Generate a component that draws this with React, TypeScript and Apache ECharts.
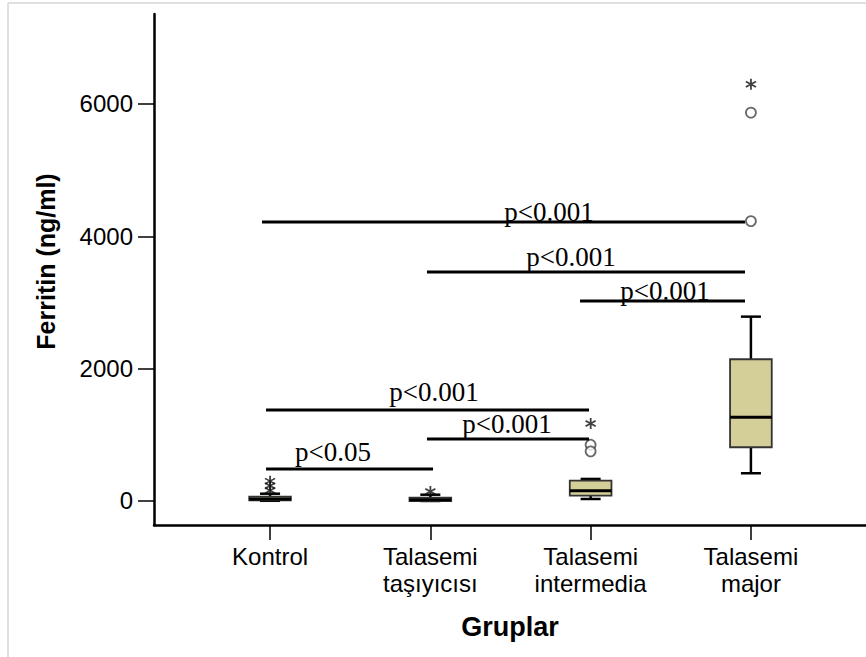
import React, { useEffect, useRef } from "react";
import * as echarts from "echarts";

// Categories (x positions 1..4)
const groups = ["Kontrol", "Talasemi\ntaşıyıcısı", "Talasemi\nintermedia", "Talasemi\nmajor"];
const groupPos = [1, 2, 3, 4];

// Box plot statistics (ng/ml)
const boxMin = [3, 0, 30, 419];
const boxQ1 = [8, 0, 80, 812];
const boxMedian = [30, 20, 156, 1265];
const boxQ3 = [65, 50, 307, 2142];
const boxMax = [110, 95, 333, 2786];

// Outliers: extreme (*) and mild (o) as [group position, value]
const extremeOutliers = [
  [1, 300], [1, 230], [1, 160],
  [2, 145],
  [3, 1170],
  [4, 6300],
];
const mildOutliers = [
  [3, 850], [3, 750],
  [4, 5870], [4, 4230],
];

// Significance brackets
const sigStart = [0.95, 1.979, 2.934, 0.975, 1.979, 0.975];
const sigEnd = [3.963, 3.963, 3.963, 2.99, 2.99, 2.017];
const sigLevel = [4216, 3461, 3023, 1375, 937, 484];
const sigLabels = ["p<0.001", "p<0.001", "p<0.001", "p<0.001", "p<0.001", "p<0.05"];
const sigLabelX = [2.74, 2.878, 3.464, 2.023, 2.478, 1.393];
const sigLabelY = [4231, 3544, 3044, 1516, 1028, 609];

const yTicks = [0, 2000, 4000, 6000];

const STAR_PATH =
  "path://M8.6,1L11.4,1L11.4,19L8.6,19Z M2.706,4.288L18.494,13.288L17.094,15.712L1.306,6.712Z M1.306,13.288L17.094,4.288L18.494,6.712L2.706,15.712Z";

export default function App() {
  const ref = useRef<HTMLDivElement>(null);

  useEffect(() => {
    if (!ref.current) return;
    const chart = echarts.init(ref.current, undefined, { renderer: "svg" });

    const boxData = groupPos.map((x, i) => [x, boxMin[i], boxQ1[i], boxMedian[i], boxQ3[i], boxMax[i]]);
    const sigData = sigStart.map((s, i) => [s, sigEnd[i], sigLevel[i], sigLabelX[i], sigLabelY[i]]);

    const option: any = {
      animation: false,
      backgroundColor: "#ffffff",
      grid: { left: 154, right: 0, top: 14, bottom: 132, containLabel: false },
      xAxis: {
        type: "value",
        min: 0.276,
        max: 4.718,
        splitLine: { show: false },
        axisLine: { show: true, onZero: false, lineStyle: { color: "#000", width: 2.5 } },
        axisTick: {
          show: true,
          customValues: groupPos,
          length: 15,
          lineStyle: { color: "#000", width: 1.5 },
        },
        axisLabel: {
          customValues: groupPos,
          formatter: (v: number) => groups[Math.round(v) - 1] ?? "",
          fontSize: 24,
          lineHeight: 27,
          color: "#000",
          fontFamily: "Liberation Sans",
          margin: 18,
        },
        name: "Gruplar",
        nameLocation: "middle",
        nameGap: 88,
        nameTextStyle: { fontSize: 27, fontWeight: "bold", color: "#000", fontFamily: "Liberation Sans" },
      },
      yAxis: {
        type: "value",
        min: -363,
        max: 7360,
        splitLine: { show: false },
        axisLine: { show: true, onZero: false, lineStyle: { color: "#000", width: 2.5 } },
        axisTick: {
          show: true,
          customValues: yTicks,
          length: 16,
          lineStyle: { color: "#000", width: 1.5 },
        },
        axisLabel: {
          customValues: yTicks,
          formatter: (v: number) => String(v),
          fontSize: 24,
          color: "#000",
          fontFamily: "Liberation Sans",
          margin: 21,
        },
        name: "Ferritin (ng/ml)",
        nameLocation: "middle",
        nameGap: 96,
        nameTextStyle: {
          fontSize: 25,
          fontWeight: "bold",
          color: "#000",
          fontFamily: "Liberation Sans",
          padding: [0, 0, 0, 16],
        },
      },
      graphic: [
        { type: "line", shape: { x1: 8, y1: 3, x2: 866, y2: 3 }, style: { stroke: "#d6d6d6", lineWidth: 1.5 }, silent: true },
        { type: "line", shape: { x1: 8, y1: 3, x2: 8, y2: 657 }, style: { stroke: "#d6d6d6", lineWidth: 1.5 }, silent: true },
      ],
      series: [
        {
          type: "custom",
          name: "box",
          data: boxData,
          encode: { x: 0, y: [1, 2, 3, 4, 5] },
          renderItem: (params: any, api: any) => {
            const x = api.value(0);
            const pMin = api.coord([x, api.value(1)]);
            const pQ1 = api.coord([x, api.value(2)]);
            const pMed = api.coord([x, api.value(3)]);
            const pQ3 = api.coord([x, api.value(4)]);
            const pMax = api.coord([x, api.value(5)]);
            const unit = api.size([1, 0])[0];
            const half = unit * 0.13;
            const cap = unit * 0.0625;
            const cx = pMed[0];
            const lineStyle = { stroke: "#000", lineWidth: 2.5 };
            return {
              type: "group",
              children: [
                { type: "line", shape: { x1: cx, y1: pMax[1], x2: cx, y2: pQ3[1] }, style: lineStyle },
                { type: "line", shape: { x1: cx, y1: pQ1[1], x2: cx, y2: pMin[1] }, style: lineStyle },
                { type: "line", shape: { x1: cx - cap, y1: pMax[1], x2: cx + cap, y2: pMax[1] }, style: lineStyle },
                { type: "line", shape: { x1: cx - cap, y1: pMin[1], x2: cx + cap, y2: pMin[1] }, style: lineStyle },
                {
                  type: "rect",
                  shape: { x: cx - half, y: pQ3[1], width: half * 2, height: Math.max(pQ1[1] - pQ3[1], 1) },
                  style: { fill: "#d4cf98", stroke: "#333", lineWidth: 1.8 },
                },
                { type: "line", shape: { x1: cx - half, y1: pMed[1], x2: cx + half, y2: pMed[1] }, style: { stroke: "#000", lineWidth: 3 } },
              ],
            };
          },
          z: 3,
        },
        {
          type: "scatter",
          name: "extreme",
          data: extremeOutliers,
          symbol: STAR_PATH,
          symbolSize: 11,
          itemStyle: { color: "#111" },
          z: 4,
        },
        {
          type: "scatter",
          name: "mild",
          data: mildOutliers,
          symbol: "circle",
          symbolSize: 10,
          itemStyle: { color: "#fff", borderColor: "#444", borderWidth: 1.8 },
          z: 4,
        },
        {
          type: "custom",
          name: "significance",
          data: sigData,
          encode: { x: [0, 1, 3], y: [2, 4] },
          renderItem: (params: any, api: any) => {
            const p1 = api.coord([api.value(0), api.value(2)]);
            const p2 = api.coord([api.value(1), api.value(2)]);
            const pl = api.coord([api.value(3), api.value(4)]);
            return {
              type: "group",
              children: [
                { type: "line", shape: { x1: p1[0], y1: p1[1], x2: p2[0], y2: p2[1] }, style: { stroke: "#000", lineWidth: 3 } },
                {
                  type: "text",
                  x: pl[0],
                  y: pl[1] - 9,
                  style: {
                    text: sigLabels[params.dataIndex],
                    fontSize: 27,
                    fontFamily: "Liberation Serif",
                    fill: "#000",
                    align: "center",
                    verticalAlign: "middle",
                  },
                },
              ],
            };
          },
          z: 5,
        },
      ],
    };

    chart.setOption(option);
    return () => chart.dispose();
  }, []);

  return (
    <div
      ref={ref}
      style={{ position: "absolute", left: 0, top: 0, width: 866, height: 657, background: "#fff" }}
    />
  );
}
